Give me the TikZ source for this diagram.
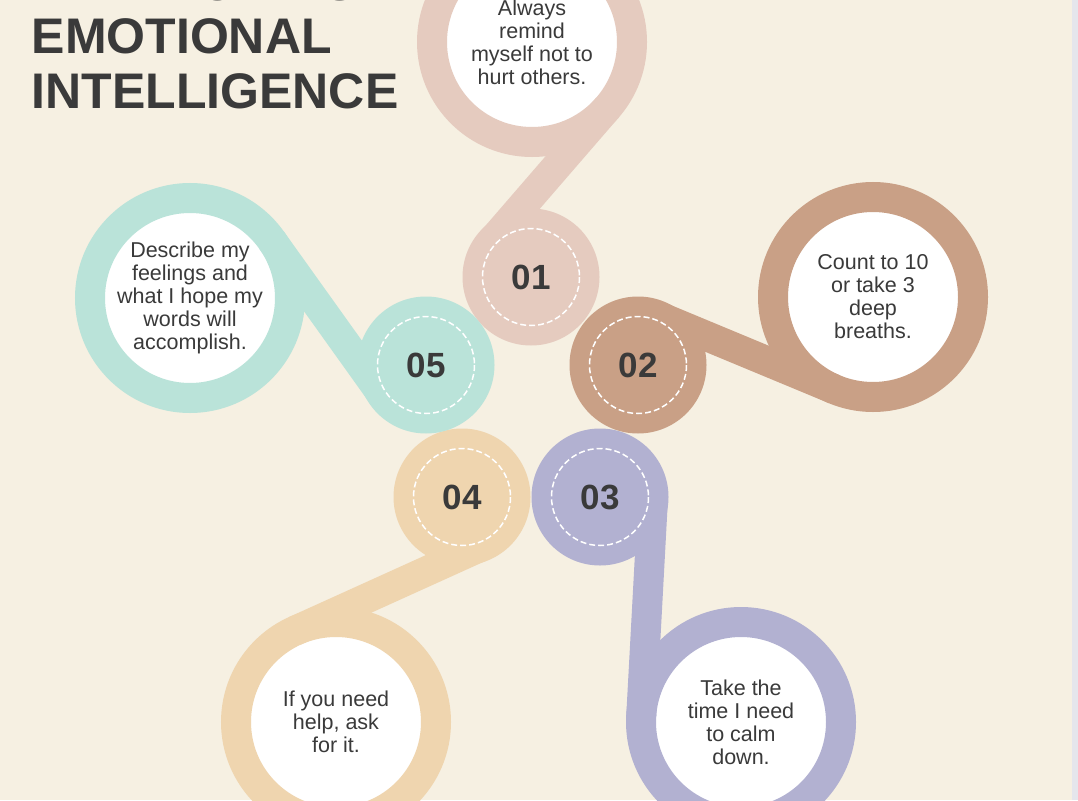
\documentclass[tikz,border=0pt]{standalone}
\usepackage{fontspec}
\setmainfont{Liberation Sans}
\definecolor{bg}{HTML}{F6F0E2}
\definecolor{cA}{HTML}{E5CBBF}
\definecolor{cB}{HTML}{C9A086}
\definecolor{cC}{HTML}{B2B1D1}
\definecolor{cD}{HTML}{EFD5AF}
\definecolor{cE}{HTML}{BAE3D9}
\definecolor{ink}{HTML}{3A3A3A}
\definecolor{strip}{HTML}{E5E6EC}
\begin{document}
\begin{tikzpicture}[x=1pt,y=-1pt,
  band/.style={line width=30pt},
  dashring/.style={draw=white, line width=1.5pt, dash pattern=on 6pt off 3pt},
  num/.style={font=\bfseries\fontsize{35}{35}\selectfont, text=ink, inner sep=0pt},
  body/.style={font=\fontsize{21.5}{23}\selectfont, text=ink, align=center, inner sep=0pt},
  ttl/.style={font=\bfseries\fontsize{50}{55}\selectfont, text=ink, anchor=base west, inner sep=0pt}]
\useasboundingbox (0,0) rectangle (1078,800);
\fill[bg] (0,0) rectangle (1078,800);
\fill[strip] (1072,0) rectangle (1078,800);

% ---------- 01 ----------
\coordinate (c1) at (532,42);
\coordinate (s1) at (531,277);
\coordinate (t1) at (607.7,107.3);
\coordinate (e1) at (490.9,242.4);
\fill[white] (c1) circle (86);
\draw[band,cA] (c1) circle (100);
\draw[band,cA] (t1) -- (e1);
\fill[cA] (s1) circle (68.5);
\draw[dashring] (s1) circle (48.5);
\node[num] (n1) at (s1) {01};
\node[body] (x1) at (c1) {Always\\remind\\myself not to\\hurt others.};

% ---------- 02 ----------
\coordinate (c2) at (873,297);
\coordinate (s2) at (638,365);
\coordinate (t2) at (834.6,389.3);
\coordinate (e2) at (658.4,316.1);
\fill[white] (c2) circle (86);
\draw[band,cB] (c2) circle (100);
\draw[band,cB] (t2) -- (e2);
\fill[cB] (s2) circle (68.5);
\draw[dashring] (s2) circle (48.5);
\node[num] (n2) at (s2) {02};
\node[body] (x2) at (c2) {Count to 10\\or take 3\\deep\\breaths.};

% ---------- 03 ----------
\coordinate (c3) at (741,722);
\coordinate (s3) at (600,497);
\coordinate (t3) at (641.2,716.6);
\coordinate (e3) at (652.9,499.9);
\fill[white] (c3) circle (86);
\draw[band,cC] (c3) circle (100);
\draw[band,cC] (t3) -- (e3);
\fill[cC] (s3) circle (68.5);
\draw[dashring] (s3) circle (48.5);
\node[num] (n3) at (s3) {03};
\node[body] (x3) at (c3) {Take the\\time I need\\to calm\\down.};

% ---------- 04 ----------
\coordinate (c4) at (336,722);
\coordinate (s4) at (462,497);
\coordinate (t4) at (294.8,630.9);
\coordinate (e4) at (483.8,545.3);
\fill[white] (c4) circle (86);
\draw[band,cD] (c4) circle (100);
\draw[band,cD] (t4) -- (e4);
\fill[cD] (s4) circle (68.5);
\draw[dashring] (s4) circle (48.5);
\node[num] (n4) at (s4) {04};
\node[body] (x4) at (c4) {If you need\\help, ask\\for it.};

% ---------- 05 ----------
\coordinate (c5) at (190,298);
\coordinate (s5) at (426,365);
\coordinate (t5) at (271.4,239.9);
\coordinate (e5) at (382.9,395.8);
\fill[white] (c5) circle (86);
\draw[band,cE] (c5) circle (100);
\draw[band,cE] (t5) -- (e5);
\fill[cE] (s5) circle (68.5);
\draw[dashring] (s5) circle (48.5);
\node[num] (n5) at (s5) {05};
\node[body] (x5) at (c5) {Describe my\\feelings and\\what I hope my\\words will\\accomplish.};

% ---------- title ----------
\node[ttl] (h1) at (31.5,0.8) {DEVELOPING};
\node[ttl] (h2) at (31.5,53) {EMOTIONAL};
\node[ttl] (h3) at (31.5,108) {INTELLIGENCE};
\end{tikzpicture}
\end{document}
